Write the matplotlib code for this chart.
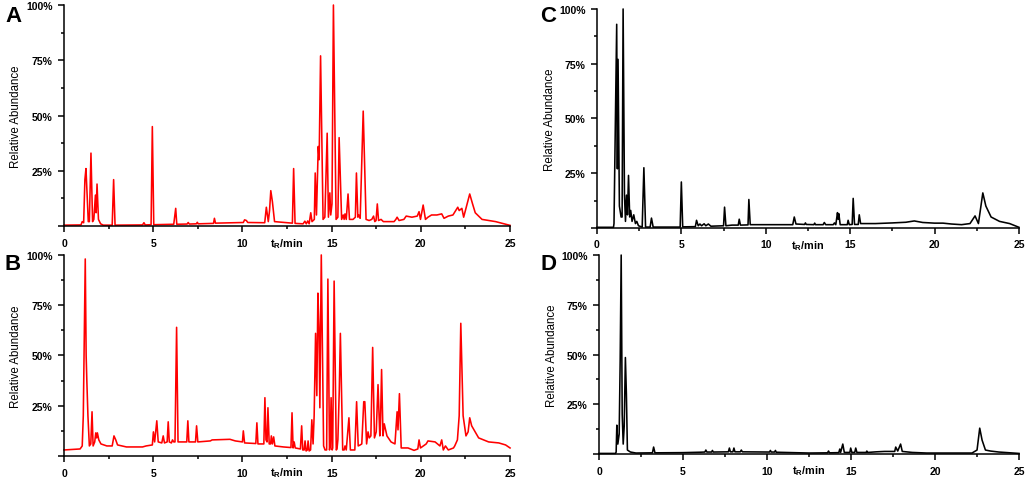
import matplotlib
matplotlib.use("Agg")
import matplotlib.pyplot as plt
from matplotlib.ticker import MultipleLocator, FixedLocator, FixedFormatter

plt.rcParams['font.family'] = ['Liberation Sans', 'DejaVu Sans']
plt.rcParams['mathtext.fontset'] = 'custom'
plt.rcParams['mathtext.rm'] = 'Liberation Sans:bold'
plt.rcParams['mathtext.it'] = 'Liberation Sans:bold'
plt.rcParams['mathtext.bf'] = 'Liberation Sans:bold'

# ---- panel A (red) ----
a_time = [0, 0.95, 1.02, 1.10, 1.17, 1.23, 1.36, 1.42, 1.51, 1.60, 1.67, 1.76, 1.80, 1.85,
          1.93, 2.05, 2.2, 2.70, 2.78, 2.86, 4.40, 4.48, 4.55, 4.88, 4.95, 5.03, 6.15, 6.26,
          6.32, 6.90, 6.96, 7.02, 7.42, 7.47, 7.52, 8.38, 8.43, 8.49, 10.05, 10.12, 10.22, 10.3,
          11.25, 11.34, 11.45, 11.52, 11.59, 11.68, 11.8, 12.8, 12.87, 12.95, 13.4, 13.5, 13.58,
          13.66, 13.74, 13.83, 13.9, 14.03, 14.08, 14.15, 14.25, 14.3, 14.38, 14.52, 14.62,
          14.75, 14.82, 14.9, 14.95, 15.02, 15.1, 15.25, 15.35, 15.42, 15.56, 15.65, 15.7,
          15.75, 15.82, 15.92, 16.0, 16.2, 16.33, 16.39, 16.47, 16.52, 16.6, 16.77, 16.93,
          17.1, 17.25, 17.35, 17.42, 17.49, 17.56, 17.63, 17.77, 17.9, 18.5, 18.6, 18.67,
          18.78, 19.05, 19.18, 19.5, 19.8, 19.9, 19.98, 20.13, 20.26, 20.4, 20.6, 20.9, 21.17,
          21.3, 21.54, 21.8, 22.07, 22.15, 22.3, 22.4, 22.53, 22.74, 22.9, 23.05, 23.43,
          24.19, 25]
a_abund = [0.4, 0.5, 2, 1.5, 21, 26, 2, 2, 33, 2, 3, 14, 6, 19,
           3, 1, 0.4, 0.4, 21, 0.4, 0.5, 1.5, 0.5, 0.6, 45, 0.6, 0.8, 8,
           0.8, 0.9, 1.6, 0.9, 1.0, 1.7, 1.0, 1.2, 3.5, 1.3, 1.6, 2.8, 2.5, 1.6,
           1.5, 8.5, 2, 7, 16, 11, 2, 1.3, 26, 1.2, 1, 2.2, 1,
           2.3, 1, 6, 2, 3, 24, 5, 36, 30, 77, 3, 4,
           42, 4, 15, 5, 10, 100, 3, 4, 40, 3, 5, 3,
           5.5, 3, 14.5, 3, 3, 4, 24, 4, 5, 3.5, 52, 3,
           2.5, 3, 4.5, 2, 2.5, 10, 2.5, 3, 2, 2, 3, 4,
           2.5, 3, 4.5, 4, 4.5, 6.5, 3, 9.5, 3, 4, 5, 5, 5.5,
           3.5, 4.5, 5, 8.5, 7, 8, 4, 8, 14.5, 10, 6, 3,
           2, 0.3]

# ---- panel B (red) ----
b_time = [0, 0.9, 1.02, 1.08, 1.19, 1.24, 1.28, 1.34, 1.42, 1.5, 1.57, 1.63, 1.72, 1.78, 1.83,
          1.87, 1.95, 2.07, 2.4, 2.7, 2.8, 2.9, 3.0, 3.5, 4.4, 4.6, 4.95, 5.01, 5.08, 5.2, 5.28,
          5.48, 5.56, 5.63, 5.78, 5.84, 5.9, 6.02, 6.08, 6.15, 6.22, 6.31, 6.39, 6.88, 6.94,
          7.0, 7.37, 7.43, 7.5, 8.2, 8.3, 9.3, 9.6, 10.0, 10.05, 10.12, 10.75, 10.81, 10.87,
          11.2, 11.26, 11.32, 11.38, 11.43, 11.5, 11.58, 11.62, 11.68, 11.75, 11.82, 12.3,
          12.72, 12.78, 12.84, 12.9, 12.96, 13.25, 13.32, 13.38, 13.46, 13.51, 13.57, 13.64,
          13.68, 13.74, 13.82, 13.89, 13.96, 14.02, 14.1, 14.17, 14.23, 14.29, 14.34, 14.42,
          14.55, 14.63, 14.72, 14.79, 14.88, 14.92, 14.97, 15.03, 15.06, 15.14, 15.26, 15.3,
          15.35, 15.43, 15.49, 15.62, 15.7, 15.75, 15.82, 15.97, 16.05, 16.3, 16.4, 16.49,
          16.6, 16.69, 16.8, 16.86, 16.96, 17.04, 17.11, 17.2, 17.3, 17.4, 17.5, 17.6, 17.7,
          17.73, 17.8, 17.88, 17.95, 18.1, 18.33, 18.55, 18.67, 18.72, 18.8, 18.9, 19.28,
          19.62, 19.83, 19.9, 19.98, 20.3, 20.4, 20.8, 21.07, 21.17, 21.26, 21.38, 21.54,
          21.83, 21.9, 22.05, 22.15, 22.24, 22.37, 22.53, 22.65, 22.74, 22.85, 23.24, 23.8,
          24.37, 24.75, 25]
b_abund = [3, 3.5, 5, 20, 98, 50, 37, 20, 5, 6, 22, 5, 7, 11.5, 9,
           11.5, 8, 6, 5, 5, 10, 8, 5.5, 4.5, 4.5, 5, 5.5, 12, 7, 17.5, 7,
           6.5, 10, 6.5, 7, 17, 7, 6.5, 8, 7, 7, 64, 7, 7, 17.5,
           7, 7, 15, 7, 7.5, 8, 8.3, 7.5, 7, 12.5, 6.5, 6.2, 16.5, 6,
           6, 29, 8, 7, 24, 6, 6, 10, 6, 9.5, 5, 4.5,
           4.2, 21.5, 4, 7, 4, 3.5, 15, 3, 3, 7.5, 2.5, 3,
           7.5, 2.5, 3, 18, 6, 20, 61, 30, 81, 64, 24, 100,
           5, 3, 3, 88, 3, 5, 29, 3, 4, 87, 3, 3.5,
           8, 33, 61, 3, 3, 5, 3, 19, 3, 3, 27, 5,
           5.5, 6, 27, 27, 6, 12, 9, 10, 54, 9, 12, 35.5, 10,
           13, 43, 10, 16, 10, 7, 6, 22, 13, 31, 4, 4,
           2.8, 3.5, 8, 4, 6, 7.5, 7, 5, 8, 3, 5, 3,
           4, 5, 8, 20, 66, 20, 10, 12, 19, 15, 9, 7,
           6.5, 5.5, 4]

# ---- panel C (black) ----
c_time = [0, 0.98, 1.01, 1.17, 1.21, 1.25, 1.33, 1.43, 1.49, 1.55, 1.63, 1.69, 1.75, 1.81,
          1.87, 1.94, 2.0, 2.08, 2.18, 2.28, 2.36, 2.46, 2.68, 2.78, 2.88, 3.15, 3.23, 3.33,
          4.93, 5.0, 5.08, 5.83, 5.9, 6.0, 6.1, 6.2, 6.35, 6.45, 6.6, 6.75, 7.5, 7.56, 7.64,
          8.0, 8.37, 8.43, 8.5, 8.95, 9.0, 9.08, 11.6, 11.69, 11.79, 12.3, 12.35, 12.4,
          12.85, 12.9, 12.95, 13.4, 13.47, 13.55, 14.0, 14.07, 14.15, 14.25, 14.29, 14.33,
          14.41, 14.83, 14.88, 14.95, 15.12, 15.18, 15.26, 15.48, 15.54, 15.62, 16.5, 17.5,
          18.3, 18.8, 19.3, 20.0, 20.5, 21.0, 21.6, 22.1, 22.4, 22.6, 22.86, 23.04, 23.35,
          23.85, 24.45, 25]
c_abund = [0.3, 0.3, 2, 93, 27, 77, 10, 5, 5, 100, 15, 3, 15, 6,
           24, 5, 8, 3, 6, 2, 3, 1, 0.4, 27.5, 0.4, 0.4, 4.5, 0.4,
           0.4, 21, 0.5, 0.6, 3.5, 1, 1.8, 1, 1.9, 1, 1.8, 0.8, 1, 9.5, 1,
           1.3, 1.3, 4, 1.3, 1.4, 13, 1.5, 1.5, 5, 1.8, 1.6, 2.3, 1.6,
           1.5, 2.2, 1.5, 1.5, 2.5, 1.5, 1.5, 2.3, 1.5, 7, 4, 6.5,
           1.5, 1.5, 3.5, 1.5, 1.6, 13.5, 1.6, 1.6, 6, 2, 2, 2.3,
           2.6, 3.2, 2.5, 2.2, 2.2, 1.8, 1.5, 2, 5.5, 2, 16, 10, 5,
           3, 2, 0.3]

# ---- panel D (black) ----
d_time = [0, 0.98, 1.02, 1.06, 1.12, 1.2, 1.26, 1.32, 1.38, 1.44, 1.5, 1.57, 1.63, 1.69, 1.87,
          2.2, 3.18, 3.25, 3.33, 5.0, 6.0, 6.3, 6.36, 6.42, 6.7, 6.75, 6.8, 7.7, 7.76, 7.82,
          7.97, 8.03, 8.09, 8.41, 8.47, 8.53, 10.15, 10.2, 10.25, 10.45, 10.5, 10.55, 12.5,
          13.6, 13.66, 13.72, 14.27, 14.33, 14.38, 14.51, 14.6, 14.93, 14.98, 15.05, 15.22,
          15.28, 15.35, 15.9, 15.94, 16.0, 16.5, 17.0, 17.6, 17.66, 17.78, 17.95, 18.05,
          18.64, 19.5, 22.2, 22.5, 22.66, 22.8, 23.0, 23.3, 23.8, 25]
d_abund = [0.3, 0.3, 1, 14.5, 5, 10, 47, 100, 20, 5, 14, 48.5, 30, 2, 1,
           0.5, 0.6, 3.5, 0.6, 0.7, 0.9, 1, 2, 1, 1, 1.8, 1, 1.1, 3, 1.1,
           1.1, 3, 1.1, 1.1, 2, 1.1, 1, 1.8, 1, 1, 1.8, 0.9, 0.5,
           0.6, 1.5, 0.6, 0.7, 2.5, 0.8, 5, 0.8, 0.8, 3, 0.8, 0.8,
           3, 0.8, 0.8, 1.5, 0.8, 1.1, 1.3, 1.3, 3.5, 1.5, 5, 1.3,
           0.8, 0.5, 0.5, 2, 13, 7, 2, 1.5, 1, 0.3]

x_ticks = [0, 5, 10, 15, 20, 25]
y_ticks = [0, 25, 50, 75, 100]
y_labels = ['', '25%', '50%', '75%', '100%']

fig = plt.figure(figsize=(10.31, 4.81), dpi=100)

panels = [
    ('A', a_time, a_abund, '#ff0000', [0.0621, 0.528, 0.4326, 0.4595], (13, 17)),
    ('B', b_time, b_abund, '#ff0000', [0.0621, 0.0499, 0.4326, 0.418], (13, 265)),
    ('C', c_time, c_abund, '#000000', [0.579, 0.524, 0.4093, 0.4553], (548, 17)),
    ('D', d_time, d_abund, '#000000', [0.581, 0.054, 0.4074, 0.4137], (548, 264)),
]

for letter, t, v, color, rect, lpos in panels:
    ax = fig.add_axes(rect)
    ax.plot(t, v, color=color, lw=1.15, clip_on=False)
    ax.set_xlim(0, 25)
    ax.set_ylim(0, 100)
    ax.spines['top'].set_visible(False)
    ax.spines['right'].set_visible(False)
    for s in ('left', 'bottom'):
        ax.spines[s].set_linewidth(1.1)
    ax.xaxis.set_major_locator(FixedLocator(x_ticks))
    ax.xaxis.set_minor_locator(MultipleLocator(2.5))
    ax.yaxis.set_major_locator(FixedLocator(y_ticks))
    ax.yaxis.set_major_formatter(FixedFormatter(y_labels))
    ax.yaxis.set_minor_locator(MultipleLocator(12.5))
    ax.tick_params(which='major', direction='out', length=4.3, width=1.1,
                   labelsize=7.5, pad=4)
    ax.tick_params(which='minor', direction='out', length=2.2, width=1.1)
    for lab in ax.get_xticklabels() + ax.get_yticklabels():
        lab.set_fontweight('bold')
    ax.set_ylabel('Relative Abundance', fontsize=8.3)
    ax.yaxis.set_label_coords(-0.095 if rect[0] < 0.5 else -0.097, 0.5)
    ax.text(0.5, -0.045, r'$\mathregular{t_R}$/min', transform=ax.transAxes,
            ha='center', va='top', fontsize=7.8, fontweight='bold')
    fig.text(lpos[0] / 1031, 1 - lpos[1] / 481, letter, fontsize=16,
             fontweight='bold', ha='center', va='center')

fig.savefig('out.png', dpi=100)
